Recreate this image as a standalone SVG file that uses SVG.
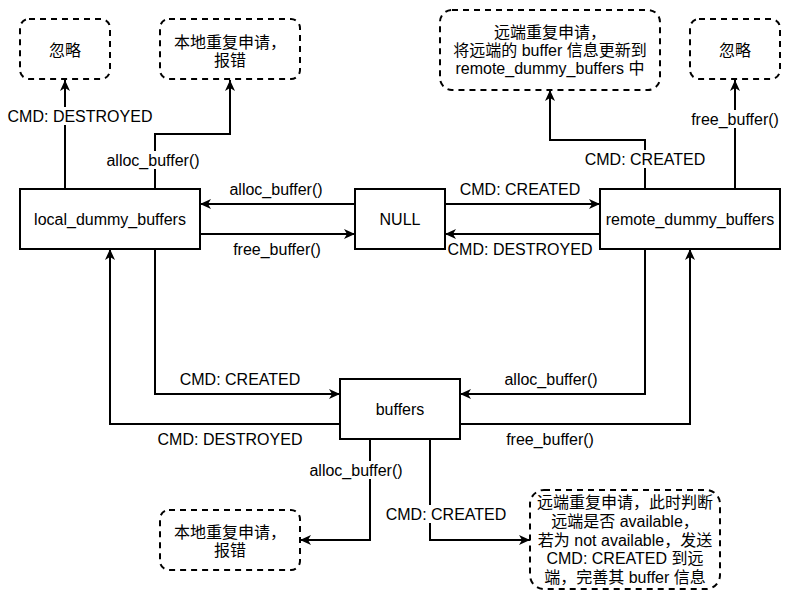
<svg xmlns="http://www.w3.org/2000/svg" width="794" height="603" viewBox="0 0 794 603">
<style>
.box{fill:#fff;stroke:#000;stroke-width:2}
.dash{fill:#fff;stroke:#000;stroke-width:2;stroke-dasharray:6 5}
.edge{fill:none;stroke:#000;stroke-width:2}
text{font-family:"Liberation Sans","Noto Sans CJK SC",Arial,sans-serif;font-size:16px;fill:#000;text-anchor:middle;dominant-baseline:central}
.lbg{fill:#fff}
</style>
<defs>
<marker id="arr" markerUnits="userSpaceOnUse" markerWidth="12" markerHeight="11" refX="11" refY="5" orient="auto">
<path d="M0,0 L11,5 L0,10 L3,5 Z" fill="#000"/>
</marker>
</defs>
<rect width="794" height="603" fill="#fff"/>
<g id="connectors">
<path class="edge" d="M65,189 V80" marker-end="url(#arr)"/>
<path class="edge" d="M155,189 V134 H230 V80" marker-end="url(#arr)"/>
<path class="edge" d="M355,204 H200" marker-end="url(#arr)"/>
<path class="edge" d="M200,234 H355" marker-end="url(#arr)"/>
<path class="edge" d="M445,204 H600" marker-end="url(#arr)"/>
<path class="edge" d="M600,234 H445" marker-end="url(#arr)"/>
<path class="edge" d="M645,189 V140 H550 V90" marker-end="url(#arr)"/>
<path class="edge" d="M735,189 V80" marker-end="url(#arr)"/>
<path class="edge" d="M155,249 V394 H340" marker-end="url(#arr)"/>
<path class="edge" d="M340,424 H110 V249" marker-end="url(#arr)"/>
<path class="edge" d="M645,249 V394 H460" marker-end="url(#arr)"/>
<path class="edge" d="M460,424 H690 V249" marker-end="url(#arr)"/>
<path class="edge" d="M370,439 V540 H300" marker-end="url(#arr)"/>
<path class="edge" d="M430,439 V540 H530" marker-end="url(#arr)"/>
<rect class="lbg" x="7" y="107" width="146" height="18"/>
<text x="80" y="116">CMD: DESTROYED</text>
<rect class="lbg" x="106" y="151" width="95" height="18"/>
<text x="153" y="160">alloc_buffer()</text>
<text x="276" y="189">alloc_buffer()</text>
<text x="277" y="249">free_buffer()</text>
<text x="520" y="189">CMD: CREATED</text>
<text x="520" y="249">CMD: DESTROYED</text>
<rect class="lbg" x="584" y="150" width="122" height="18"/>
<text x="645" y="159">CMD: CREATED</text>
<rect class="lbg" x="691" y="110" width="89" height="18"/>
<text x="735" y="119">free_buffer()</text>
<text x="240" y="379">CMD: CREATED</text>
<text x="230" y="439">CMD: DESTROYED</text>
<text x="551" y="379">alloc_buffer()</text>
<text x="550" y="439">free_buffer()</text>
<rect class="lbg" x="309" y="461" width="95" height="18"/>
<text x="356" y="470">alloc_buffer()</text>
<rect class="lbg" x="385" y="505" width="122" height="18"/>
<text x="446" y="514">CMD: CREATED</text>
</g>
<g id="local_dummy_buffers"><rect class="box" x="20" y="189" width="180" height="60"/><text x="110" y="219">local_dummy_buffers</text></g>
<g id="null"><rect class="box" x="355" y="189" width="90" height="60"/><text x="400" y="219">NULL</text></g>
<g id="remote_dummy_buffers"><rect class="box" x="600" y="189" width="180" height="60"/><text x="690" y="219">remote_dummy_buffers</text></g>
<g id="buffers"><rect class="box" x="340" y="379" width="120" height="60"/><text x="400" y="409">buffers</text></g>
<g id="ignore_left"><rect class="dash" x="20" y="19" width="90" height="60" rx="9"/><text x="65" y="50">忽略</text></g>
<g id="local_dup_top"><rect class="dash" x="160" y="19" width="140" height="60" rx="9"/><text x="230" y="42">本地重复申请，</text><text x="230" y="60">报错</text></g>
<g id="remote_dup_top"><rect class="dash" x="440" y="10" width="220" height="80" rx="12"/><text x="550" y="32">远端重复申请，</text><text x="550" y="50">将远端的 buffer 信息更新到</text><text x="550" y="68">remote_dummy_buffers 中</text></g>
<g id="ignore_right"><rect class="dash" x="690" y="19" width="90" height="60" rx="9"/><text x="735" y="50">忽略</text></g>
<g id="local_dup_bottom"><rect class="dash" x="160" y="510" width="140" height="60" rx="9"/><text x="230" y="532">本地重复申请，</text><text x="230" y="550">报错</text></g>
<g id="remote_dup_bottom"><rect class="dash" x="530" y="490" width="190" height="99" rx="14"/><text x="625" y="502">远端重复申请，此时判断</text><text x="625" y="521">远端是否 available，</text><text x="625" y="540">若为 not available，发送</text><text x="625" y="558">CMD: CREATED 到远</text><text x="625" y="577">端，完善其 buffer 信息</text></g>
</svg>
